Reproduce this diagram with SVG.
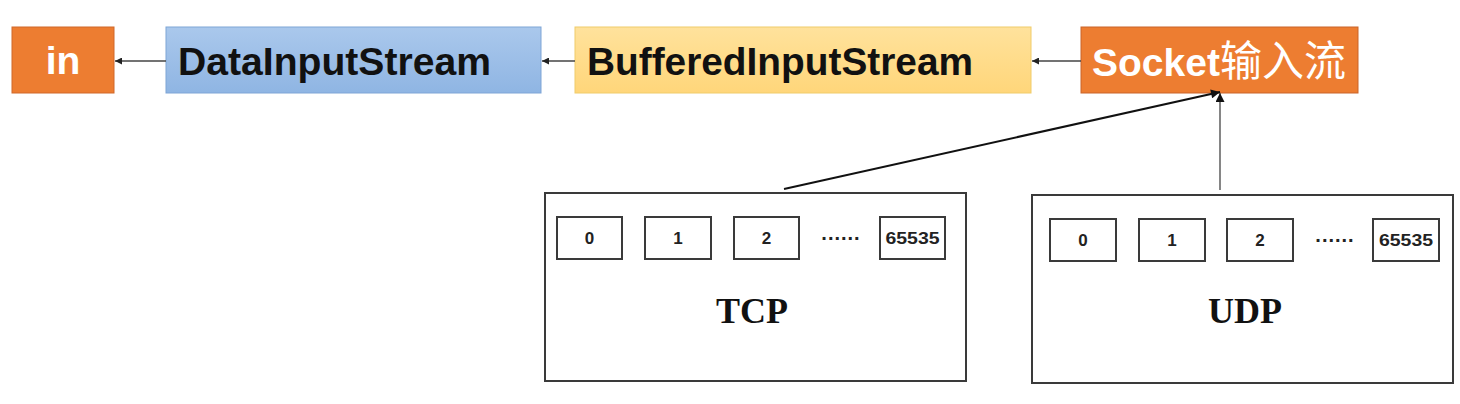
<svg xmlns="http://www.w3.org/2000/svg" width="1460" height="404" viewBox="0 0 1460 404">
<style>
.lbl{font-family:"Liberation Sans",Arial,"Noto Sans CJK SC",sans-serif;font-weight:bold;font-size:39px}
.num{font-family:"Liberation Sans",Arial,sans-serif;font-weight:bold;font-size:17px;fill:#222;text-anchor:middle}
.dots{font-family:"Liberation Sans",Arial,sans-serif;font-weight:bold;font-size:20px;fill:#222;text-anchor:middle;letter-spacing:1px}
.big{font-family:"Liberation Serif","Times New Roman",serif;font-weight:bold;font-size:36px;fill:#111;text-anchor:middle}
.port{fill:#fff;stroke:#3a3a3a;stroke-width:2}
.frame{fill:#fff;stroke:#3a3a3a;stroke-width:2}
.thin{stroke:#444;stroke-width:1.3;fill:none}
.thick{stroke:#111;stroke-width:2;fill:none}
</style>
<defs>
<linearGradient id="gBlue" x1="0" y1="0" x2="0" y2="1"><stop offset="0" stop-color="#aac8ec"/><stop offset="1" stop-color="#8fb5e3"/></linearGradient>
<linearGradient id="gYel" x1="0" y1="0" x2="0" y2="1"><stop offset="0" stop-color="#ffe29c"/><stop offset="1" stop-color="#ffd67a"/></linearGradient>
<marker id="aSmall" viewBox="0 0 10 10" refX="10" refY="5" markerWidth="8" markerHeight="7" markerUnits="userSpaceOnUse" orient="auto"><path d="M0,0 L10,5 L0,10 z" fill="#222"/></marker>
<marker id="aBig" viewBox="0 0 10 10" refX="10" refY="5" markerWidth="12" markerHeight="9" markerUnits="userSpaceOnUse" orient="auto"><path d="M0,0 L10,5 L0,10 z" fill="#111"/></marker>
</defs>
<rect width="1460" height="404" fill="#fff"/>

<g id="node-in">
<rect x="12" y="27" width="102" height="66" fill="#ed7d31" stroke="#d0692a" stroke-width="1"/>
<text class="lbl" x="63" y="74" fill="#fff" text-anchor="middle">in</text>
</g>
<g id="node-datainputstream">
<rect x="166" y="27" width="375" height="66" fill="url(#gBlue)" stroke="#7ea5d6" stroke-width="1"/>
<text class="lbl" x="178" y="75" fill="#111" textLength="313" lengthAdjust="spacingAndGlyphs">DataInputStream</text>
</g>
<g id="node-bufferedinputstream">
<rect x="575" y="27" width="456" height="66" fill="url(#gYel)" stroke="#f0cc6a" stroke-width="1"/>
<text class="lbl" x="587" y="75" fill="#111" textLength="386" lengthAdjust="spacingAndGlyphs">BufferedInputStream</text>
</g>
<g id="node-socket">
<rect x="1081" y="27" width="277" height="66" fill="#ed7d31" stroke="#c9642a" stroke-width="1"/>
<text class="lbl" x="1092" y="76" fill="#fff">Socket<tspan font-weight="normal" font-size="42">输入流</tspan></text>
</g>

<g id="node-tcp">
<rect class="frame" x="545" y="193" width="421" height="188"/>
<rect class="port" x="557" y="217" width="65" height="42"/><text class="num" x="589.5" y="244">0</text>
<rect class="port" x="645" y="217" width="66" height="42"/><text class="num" x="678" y="244">1</text>
<rect class="port" x="734" y="217" width="65" height="42"/><text class="num" x="766.5" y="244">2</text>
<text class="dots" x="841" y="240">......</text>
<rect class="port" x="880" y="217" width="65" height="42"/><text class="num" x="912.5" y="244" textLength="54" lengthAdjust="spacingAndGlyphs">65535</text>
<text class="big" x="752" y="323">TCP</text>
</g>

<g id="node-udp">
<rect class="frame" x="1032" y="195" width="421" height="188"/>
<rect class="port" x="1050" y="219" width="66" height="42"/><text class="num" x="1083" y="246">0</text>
<rect class="port" x="1139" y="219" width="66" height="42"/><text class="num" x="1172" y="246">1</text>
<rect class="port" x="1227" y="219" width="66" height="42"/><text class="num" x="1260" y="246">2</text>
<text class="dots" x="1335" y="242">......</text>
<rect class="port" x="1373" y="219" width="66" height="42"/><text class="num" x="1406" y="246" textLength="54" lengthAdjust="spacingAndGlyphs">65535</text>
<text class="big" x="1245" y="323">UDP</text>
</g>

<g id="connectors">
<line class="thin" x1="166" y1="61" x2="115" y2="61" marker-end="url(#aSmall)"/>
<line class="thin" x1="575" y1="61" x2="542" y2="61" marker-end="url(#aSmall)"/>
<line class="thin" x1="1081" y1="61" x2="1032" y2="61" marker-end="url(#aSmall)"/>
<line class="thick" x1="784" y1="189" x2="1220" y2="92" marker-end="url(#aBig)"/>
<line class="thin" x1="1220" y1="190" x2="1220" y2="93" stroke-width="1.6" marker-end="url(#aBig)"/>
</g>
</svg>
